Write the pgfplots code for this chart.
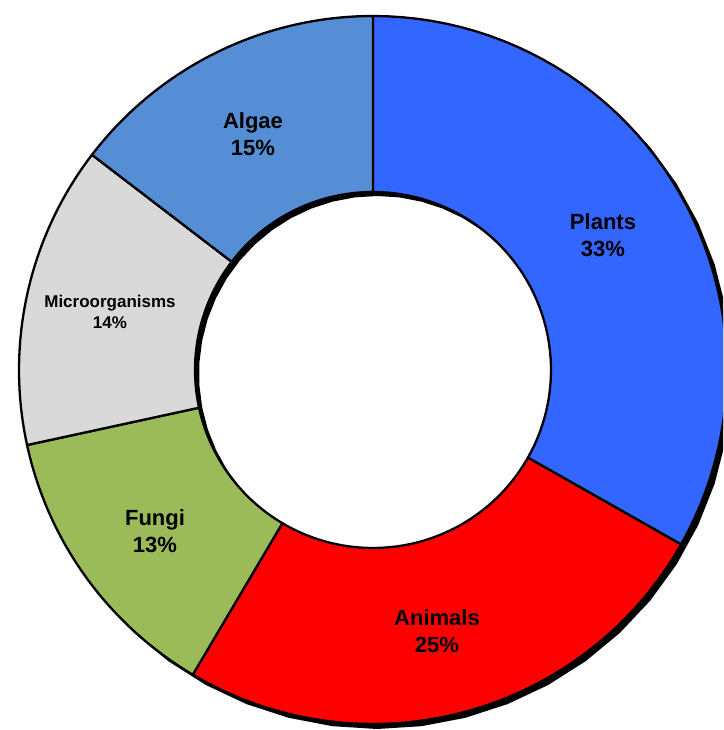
\documentclass[border=0pt]{standalone}
\usepackage{pgfplots}
\pgfplotsset{compat=1.18}
\usepackage{fontspec}
\setmainfont{Liberation Sans}
\definecolor{plantsc}{HTML}{3366FF}
\definecolor{animalsc}{HTML}{FF0000}
\definecolor{fungic}{HTML}{9BBB59}
\definecolor{microc}{HTML}{D9D9D9}
\definecolor{algaec}{HTML}{558ED5}
% slice: #1 = cumulative start (%), #2 = value (%), #3 = colour
\newcommand{\slice}[3]{%
  \addplot[fill=#3, draw=black, line width=2.3pt, line join=round, domain=0:101, samples=102]
  ({373 + (x<50.5 ? 354 : 178)*sin(x<50.5 ? (#1)*3.6+(#2)*3.6*x/50 : (#1+#2)*3.6-(#2)*3.6*(x-51)/50)},
   {360 + (x<50.5 ? 354 : 178)*cos(x<50.5 ? (#1)*3.6+(#2)*3.6*x/50 : (#1+#2)*3.6-(#2)*3.6*(x-51)/50)}) -- cycle;
}
\begin{document}
\begin{tikzpicture}
\begin{axis}[
  width=723pt, height=730pt, scale only axis,
  xmin=0, xmax=723, ymin=0, ymax=730,
  axis line style={draw=none}, ticks=none,
  clip=true,
]
% shadow ring
\addplot[fill=black, draw=none, domain=0:101, samples=102]
  ({377 + (x<50.5 ? 355 : 178)*sin(x<50.5 ? 360*x/50 : 360-360*(x-51)/50)},
   {356 + (x<50.5 ? 355 : 178)*cos(x<50.5 ? 360*x/50 : 360-360*(x-51)/50)}) -- cycle;
\slice{0}{33.2}{plantsc}
\slice{33.2}{25.3}{animalsc}
\slice{58.5}{13.1}{fungic}
\slice{71.6}{13.8}{microc}
\slice{85.4}{14.6}{algaec}
\begin{scope}[every node/.style={align=center, font=\bfseries\fontsize{22}{27}\selectfont}]
\node at (axis cs:603,495) {Plants\\33\%};
\node at (axis cs:437,99) {Animals\\25\%};
\node at (axis cs:155,199) {Fungi\\13\%};
\node at (axis cs:253,596) {Algae\\15\%};
\node[font=\bfseries\fontsize{17}{21}\selectfont] at (axis cs:110,418) {Microorganisms\\14\%};
\end{scope}
\end{axis}
\end{tikzpicture}
\end{document}
